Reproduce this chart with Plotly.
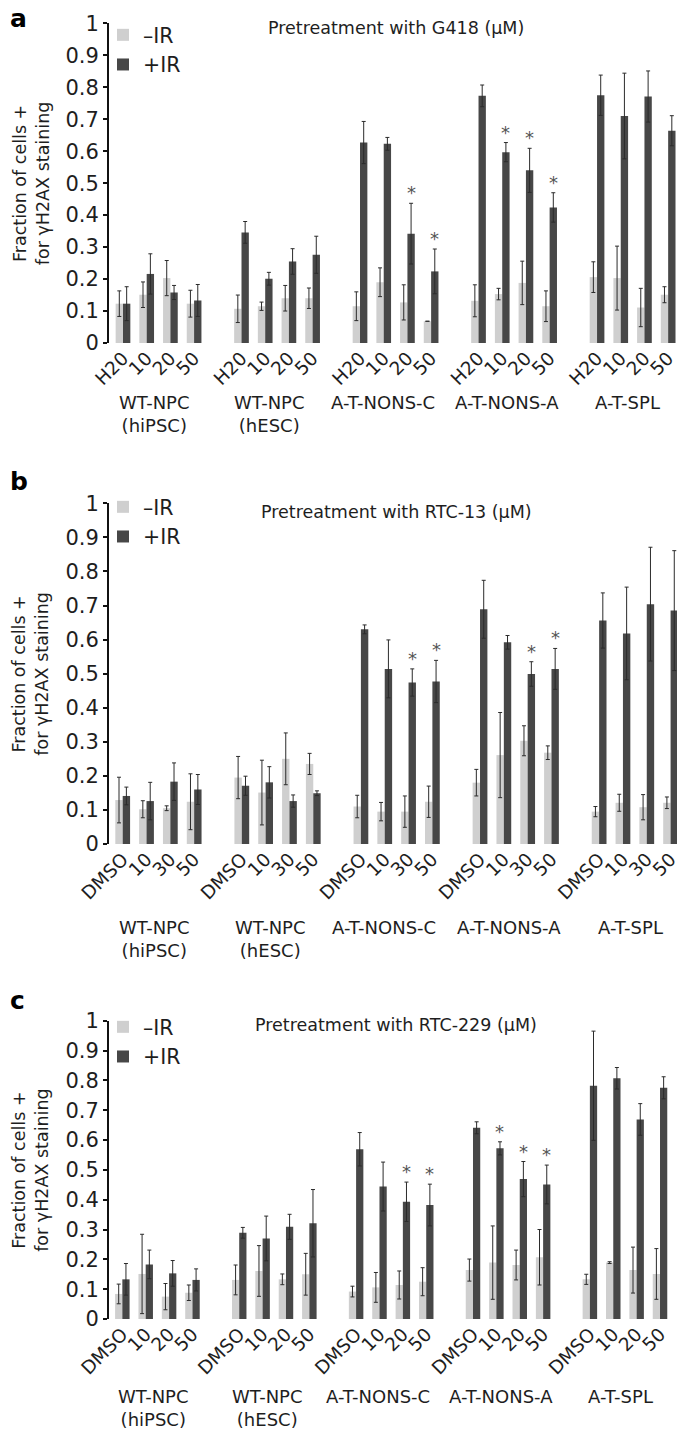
import plotly.graph_objects as go

# ---------------- data ----------------
groups = ["WT-NPC<br>(hiPSC)", "WT-NPC<br>(hESC)", "A-T-NONS-C", "A-T-NONS-A", "A-T-SPL"]
doses_a = ["H20", "10", "20", "50"]
doses_b = ["DMSO", "10", "30", "50"]
doses_c = ["DMSO", "10", "20", "50"]
titles = ["Pretreatment with G418 (\u03bcM)",
          "Pretreatment with RTC-13 (\u03bcM)",
          "Pretreatment with RTC-229 (\u03bcM)"]
panel_letters = ["a", "b", "c"]
series_names = ["\u2013IR", "+IR"]

a_minus = [0.123, 0.151, 0.203, 0.123, 0.107, 0.115, 0.140, 0.140, 0.115, 0.190, 0.127, 0.068,
           0.132, 0.153, 0.188, 0.115, 0.206, 0.203, 0.111, 0.151]
a_minus_err = [0.040, 0.040, 0.055, 0.042, 0.043, 0.013, 0.040, 0.032, 0.045, 0.045, 0.055, 0.0,
               0.050, 0.018, 0.068, 0.048, 0.048, 0.100, 0.060, 0.025]
a_plus = [0.123, 0.216, 0.158, 0.133, 0.346, 0.201, 0.255, 0.276, 0.627, 0.623, 0.342, 0.224,
          0.773, 0.597, 0.540, 0.424, 0.775, 0.710, 0.771, 0.664]
a_plus_err = [0.053, 0.063, 0.022, 0.050, 0.034, 0.020, 0.040, 0.058, 0.066, 0.020, 0.095, 0.070,
              0.034, 0.030, 0.069, 0.046, 0.063, 0.134, 0.080, 0.047]
a_sig = [0, 0, 0, 0, 0, 0, 0, 0, 0, 0, 1, 1, 0, 1, 1, 1, 0, 0, 0, 0]

b_minus = [0.129, 0.102, 0.105, 0.124, 0.195, 0.151, 0.250, 0.235, 0.110, 0.095, 0.095, 0.124,
           0.180, 0.261, 0.303, 0.268, 0.095, 0.121, 0.108, 0.121]
b_minus_err = [0.067, 0.025, 0.007, 0.082, 0.062, 0.095, 0.076, 0.031, 0.033, 0.027, 0.046, 0.046,
               0.039, 0.125, 0.044, 0.020, 0.015, 0.025, 0.037, 0.017]
b_plus = [0.141, 0.126, 0.183, 0.160, 0.171, 0.181, 0.126, 0.149, 0.630, 0.514, 0.474, 0.477,
          0.689, 0.592, 0.499, 0.514, 0.656, 0.618, 0.704, 0.685]
b_plus_err = [0.026, 0.055, 0.055, 0.044, 0.028, 0.046, 0.018, 0.007, 0.013, 0.085, 0.040, 0.062,
              0.085, 0.020, 0.036, 0.060, 0.081, 0.136, 0.167, 0.176]
b_sig = [0, 0, 0, 0, 0, 0, 0, 0, 0, 0, 1, 1, 0, 0, 1, 1, 0, 0, 0, 0]

c_minus = [0.084, 0.151, 0.075, 0.088, 0.131, 0.161, 0.133, 0.150, 0.092, 0.106, 0.114, 0.125,
           0.164, 0.189, 0.181, 0.207, 0.133, 0.189, 0.164, 0.151]
c_minus_err = [0.033, 0.133, 0.044, 0.026, 0.050, 0.085, 0.018, 0.070, 0.018, 0.050, 0.047, 0.047,
               0.037, 0.123, 0.050, 0.093, 0.017, 0.003, 0.077, 0.085]
c_plus = [0.133, 0.183, 0.153, 0.131, 0.289, 0.270, 0.309, 0.321, 0.569, 0.444, 0.393, 0.382,
          0.641, 0.572, 0.469, 0.451, 0.782, 0.807, 0.669, 0.775]
c_plus_err = [0.053, 0.048, 0.043, 0.037, 0.018, 0.075, 0.042, 0.113, 0.056, 0.082, 0.066, 0.070,
              0.020, 0.022, 0.059, 0.065, 0.183, 0.036, 0.053, 0.037]
c_sig = [0, 0, 0, 0, 0, 0, 0, 0, 0, 0, 1, 1, 0, 1, 1, 1, 0, 0, 0, 0]

# ---------------- style / layout ----------------
PAGE_W, PAGE_H = 685, 1432
BODY = 8                      # default page margin around the plot div
W, H = PAGE_W - BODY, PAGE_H - BODY
FONT = "DejaVu Sans"
LIGHT = "#cfcfcf"
DARK = "#474747"
ERR = "#2b2b2b"
TXT = "#1e1e1e"

def px(x):
    return (x - BODY) / W

def py(y):
    return 1 - (y - BODY) / H

panels = [
    dict(doses=doses_a, minus=a_minus, merr=a_minus_err, plus=a_plus, perr=a_plus_err, sig=a_sig,
         top=23.3, bottom=343, xl=109, xr=680, xmin=-0.59, title_y=28, legend_top=15,
         glabel_y=390, letter_y=18),
    dict(doses=doses_b, minus=b_minus, merr=b_minus_err, plus=b_plus, perr=b_plus_err, sig=b_sig,
         top=503.3, bottom=844, xl=109, xr=682.5, xmin=-0.575, title_y=512, legend_top=487,
         glabel_y=915, letter_y=482),
    dict(doses=doses_c, minus=c_minus, merr=c_minus_err, plus=c_plus, perr=c_plus_err, sig=c_sig,
         top=1020.7, bottom=1319, xl=109, xr=671.7, xmin=-0.57, title_y=1025, legend_top=1007,
         glabel_y=1384, letter_y=1000),
]
glabel_shift = [-0.15, -0.3, -0.55, -0.3, -0.2]

fig = go.Figure()
layout = dict(width=W, height=H, margin=dict(l=0, r=0, t=0, b=0, pad=0), autosize=False,
              template="none", plot_bgcolor="white", paper_bgcolor="white",
              barmode="group", bargap=0.38, bargroupgap=0,
              font=dict(family=FONT, color=TXT))
annotations = []

for i, p in enumerate(panels):
    sfx = "" if i == 0 else str(i + 1)
    xa, ya = "x" + sfx, "y" + sfx
    leg = "legend" + sfx
    slots = [g * 5 + d for g in range(len(groups)) for d in range(len(p["doses"]))]
    ticktext = [d for g in groups for d in p["doses"]]

    for name, vals, errs, col in [(series_names[0], p["minus"], p["merr"], LIGHT),
                                  (series_names[1], p["plus"], p["perr"], DARK)]:
        fig.add_trace(go.Bar(
            x=slots, y=vals, name=name, marker=dict(color=col, line=dict(width=0)),
            error_y=dict(type="data", array=errs, visible=True, color=ERR, thickness=1, width=2),
            xaxis=xa, yaxis=ya, legend=leg, showlegend=True))

    layout["xaxis" + sfx] = dict(domain=[px(p["xl"]), px(p["xr"])], range=[p["xmin"], 23.5],
                                 anchor=ya, tickmode="array", tickvals=slots, ticktext=ticktext,
                                 tickangle=-45, showline=False, ticks="", showgrid=False,
                                 zeroline=False, automargin=False,
                                 tickfont=dict(size=18.5, color=TXT))
    layout["yaxis" + sfx] = dict(domain=[py(p["bottom"]), py(p["top"])], range=[0, 1],
                                 anchor=xa, tick0=0, dtick=0.1, showline=True, linecolor="#111",
                                 linewidth=2, ticks="outside", ticklen=4, tickwidth=1.5,
                                 tickcolor="#111", showgrid=False, zeroline=False,
                                 automargin=False, tickfont=dict(size=21, color=TXT))
    layout[leg] = dict(x=px(103), y=py(p["legend_top"]), xanchor="left", yanchor="top",
                       bgcolor="rgba(0,0,0,0)", borderwidth=0,
                       font=dict(size=20.5, color=TXT, family=FONT), traceorder="normal")

    # title
    annotations.append(dict(text=titles[i], x=px(396), y=py(p["title_y"]), xref="paper",
                            yref="paper", xanchor="center", yanchor="middle", showarrow=False,
                            font=dict(size=17.5, color=TXT)))
    # panel letter
    annotations.append(dict(text="<b>" + panel_letters[i] + "</b>", x=0, y=py(p["letter_y"]),
                            xref="paper", yref="paper", xanchor="left", yanchor="middle",
                            showarrow=False, font=dict(size=25, color="#000")))
    # y title
    annotations.append(dict(text="Fraction of cells +<br>for \u03b3H2AX staining", x=px(31),
                            y=py((p["top"] + p["bottom"]) / 2), xref="paper", yref="paper",
                            xanchor="center", yanchor="middle", textangle=-90, showarrow=False,
                            font=dict(size=17.5, color=TXT)))
    # group labels
    for g, gname in enumerate(groups):
        annotations.append(dict(text=gname, x=g * 5 + 1.5 + glabel_shift[g], y=py(p["glabel_y"]),
                                xref=xa, yref="paper", xanchor="center", yanchor="top",
                                showarrow=False, font=dict(size=18, color=TXT)))
    # significance asterisks
    for k, s in enumerate(p["sig"]):
        if s:
            annotations.append(dict(text="*", x=slots[k] + 0.155, y=p["plus"][k] + p["perr"][k],
                                    xref=xa, yref=ya, xanchor="center", yanchor="bottom",
                                    yshift=-2, showarrow=False,
                                    font=dict(size=18, color="#555")))

layout["annotations"] = annotations
fig.update_layout(**layout)
fig.write_html("out.html")
